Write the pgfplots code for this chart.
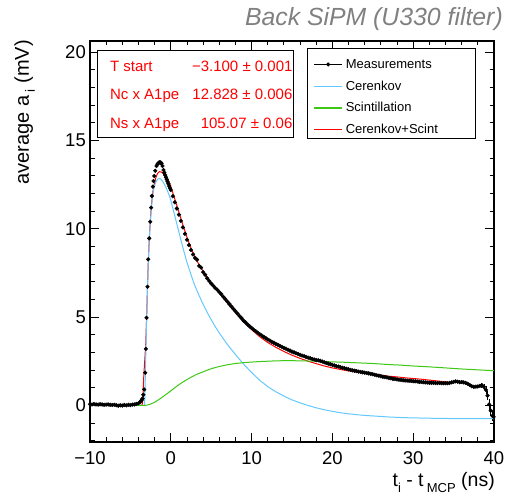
\documentclass[border=0pt]{standalone}
\usepackage{pgfplots}
\pgfplotsset{compat=1.18}
\usepackage{fontspec}
\setmainfont{Liberation Sans}
\definecolor{cblue}{RGB}{100,200,255}
\definecolor{cgreen}{RGB}{60,200,20}
\definecolor{cred}{RGB}{255,0,0}
\definecolor{tgray}{RGB}{128,128,128}
\newcommand\lentry[1]{\makebox[122bp][l]{#1}}
\begin{document}
\begin{tikzpicture}
\useasboundingbox (-90bp,-54.3bp) rectangle (415bp,441.7bp);
\begin{axis}[
  at={(0,0)}, anchor=south west,
  scale only axis, width=404bp, height=400.7bp,
  xmin=-10, xmax=40, ymin=-2.06, ymax=20.64,
  xtick={-10,0,10,20,30,40}, xticklabels={−10,0,10,20,30,40},
  ytick={0,5,10,15,20}, yticklabels={0,5,10,15,20},
  minor xtick={-8,-6,-4,-2,2,4,6,8,12,14,16,18,22,24,26,28,32,34,36,38},
  minor ytick={-2,-1,1,2,3,4,6,7,8,9,11,12,13,14,16,17,18,19},
  tick align=inside, major tick length=9bp, minor tick length=4.5bp,
  every tick/.style={black, line width=0.9bp},
  axis line style={line width=1.6bp},
  ticklabel style={font=\fontsize{18.5bp}{18.5bp}\selectfont},
  xticklabel style={inner sep=0pt, yshift=-10bp},
  yticklabel style={inner sep=0pt, xshift=-4bp},
  legend image code/.code={\draw[mark repeat=2, mark phase=2, #1] plot coordinates {(0bp,-3.3bp) (14bp,-3.3bp) (28bp,-3.3bp)};},
  legend cell align=left,
  legend style={at={(0.538,0.982)}, anchor=north west, draw, line width=0.9bp, fill=white,
    font=\fontsize{13bp}{13bp}\selectfont, inner xsep=5.7bp, inner ysep=3bp,
    row sep=2.7bp, column sep=1bp,
    nodes={inner sep=2bp, text height=14.7bp, text depth=0.3bp}},
]
\addlegendimage{draw=black, line width=0.8bp, mark=*, mark options={fill=black, draw=black}, mark size=1.6bp}
\addlegendentry{\lentry{Measurements}}
\addlegendimage{draw=cblue, line width=1.3bp, mark=none}
\addlegendentry{\lentry{Cerenkov}}
\addlegendimage{draw=cgreen, line width=1.3bp, mark=none}
\addlegendentry{\lentry{Scintillation}}
\addlegendimage{draw=cred, line width=1.3bp, mark=none}
\addlegendentry{\lentry{Cerenkov+Scint}}

% Measurements
\addplot[forget plot, only marks, mark=*, mark size=1.9bp, black] coordinates {
(-10,0.06) (-9.75,0.05) (-9.5,0.07) (-9.25,0.05) (-9,0.04) (-8.75,0.06) (-8.5,0.05) (-8.25,0.03)
(-8,0.04) (-7.75,0.05) (-7.5,0.03) (-7.25,0.02) (-7,0.03) (-6.75,0.01) (-6.5,-0.02) (-6.25,0.0)
(-6,-0.01) (-5.75,0.02) (-5.5,0.0) (-5.25,0.03) (-5,0.01) (-4.75,0.04) (-4.5,0.05) (-4.25,0.08)
(-4,0.12) (-3.8,0.18) (-3.7,0.24) (-3.6,0.3) (-3.5,0.38) (-3.4,0.6) (-3.29,0.9) (-3.17,1.85)
(-3.08,3.2) (-3.0,4.96) (-2.88,6.72) (-2.8,8.27) (-2.67,9.46) (-2.55,10.4) (-2.43,11.2) (-2.34,11.86)
(-2.22,12.39) (-2.14,12.71) (-2.05,12.99) (-1.93,13.29) (-1.77,13.56) (-1.65,13.66) (-1.56,13.71)
(-1.45,13.76) (-1.35,13.77) (-1.25,13.75) (-1.15,13.71) (-1.03,13.56) (-0.9,13.33) (-0.8,13.18)
(-0.7,13.05) (-0.6,12.92) (-0.5,12.8) (-0.4,12.68) (-0.3,12.55) (-0.2,12.42) (-0.1,12.3)
(0,12.2) (0.25,11.85) (0.5,11.5) (0.75,11.15) (1.0,10.8) (1.25,10.45) (1.5,10.08) (1.75,9.72)
(2.0,9.38) (2.25,9.08) (2.5,8.8) (2.75,8.55) (3.0,8.35) (3.25,8.25) (3.5,7.9) (3.75,7.8)
(4.0,7.55) (4.25,7.4) (4.5,7.2) (4.75,7.05) (5.0,6.9) (5.25,6.78) (5.5,6.65) (5.75,6.55)
(6.0,6.42) (6.25,6.3) (6.5,6.15) (6.75,6.02) (7.0,5.88) (7.25,5.74) (7.5,5.6) (7.75,5.46)
(8.0,5.33) (8.25,5.2) (8.5,5.06) (8.75,4.94) (9.0,4.8) (9.25,4.7) (9.5,4.58) (9.75,4.48)
(10.0,4.38) (10.25,4.29) (10.5,4.2) (10.75,4.12) (11.0,4.03) (11.25,3.96) (11.5,3.88) (11.75,3.81)
(12.0,3.73) (12.25,3.67) (12.5,3.6) (12.75,3.55) (13.0,3.48) (13.25,3.43) (13.5,3.37) (13.75,3.31)
(14.0,3.25) (14.25,3.21) (14.5,3.15) (14.75,3.1) (15.0,3.04) (15.25,3.0) (15.5,2.95) (15.75,2.91)
(16.0,2.86) (16.25,2.82) (16.5,2.79) (16.75,2.74) (17.0,2.7) (17.25,2.67) (17.5,2.63) (17.75,2.6)
(18.0,2.56) (18.25,2.55) (18.5,2.52) (18.75,2.48) (19.0,2.44) (19.25,2.4) (19.5,2.36) (19.75,2.33)
(20.0,2.29) (20.25,2.26) (20.5,2.22) (20.75,2.2) (21.0,2.16) (21.25,2.13) (21.5,2.1) (21.75,2.07)
(22.0,2.04) (22.25,2.01) (22.5,1.98) (22.75,1.96) (23.0,1.94) (23.25,1.91) (23.5,1.89) (23.75,1.87)
(24.0,1.85) (24.25,1.83) (24.5,1.81) (24.75,1.78) (25.0,1.76) (25.25,1.73) (25.5,1.7) (25.75,1.68)
(26.0,1.65) (26.25,1.62) (26.5,1.6) (26.75,1.58) (27.0,1.55) (27.25,1.53) (27.5,1.5) (27.75,1.49)
(28.0,1.47) (28.25,1.45) (28.5,1.44) (28.75,1.42) (29.0,1.41) (29.25,1.4) (29.5,1.39) (29.75,1.38)
(30.0,1.37) (30.25,1.36) (30.5,1.35) (30.75,1.33) (31.0,1.32) (31.25,1.31) (31.5,1.3) (31.75,1.29)
(32.0,1.28) (32.25,1.28) (32.5,1.27) (32.75,1.27) (33.0,1.26) (33.25,1.27) (33.5,1.26) (33.75,1.25)
(34.0,1.26) (34.25,1.25) (34.5,1.27) (34.75,1.3) (35.0,1.33) (35.25,1.36) (35.5,1.34) (35.75,1.31)
(36.0,1.32) (36.25,1.3) (36.5,1.27) (36.75,1.22) (37.0,1.15) (37.25,1.08) (37.5,1.05) (37.75,1.06)
(38.0,1.07) (38.25,1.1) (38.5,1.14) (38.75,1.05) (39.0,0.87) (39.2,0.55) (39.4,0.05) (39.6,-0.3)
(39.8,-0.6) (39.95,-0.65)
};
% error bars on the last points
\addplot[forget plot, black, line width=0.8bp, draw=none, mark=none,
  error bars/.cd, y dir=both, y explicit, error bar style={black, line width=0.8bp}, error mark=none]
  coordinates {
(38.5,1.14) +- (0,0.15) (38.75,1.05) +- (0,0.18) (39.0,0.87) +- (0,0.2) (39.2,0.55) +- (0,0.25)
(39.4,0.05) +- (0,0.3) (39.6,-0.3) +- (0,0.3) (39.8,-0.6) +- (0,0.3) (39.95,-0.65) +- (0,0.3)
};
% Cerenkov+Scint
\addplot[forget plot, cred, line width=1bp] coordinates {
(-10,0) (-3.55,0) (-3.5,0.15) (-3.45,0.6) (-3.4,1.1) (-3.35,1.6) (-3.3,2.0) (-3.2,2.7) (-3.1,3.5)
(-3.0,4.85) (-2.9,6.45) (-2.8,7.95) (-2.7,9.05) (-2.6,9.97) (-2.5,10.7) (-2.4,11.3) (-2.3,11.77)
(-2.2,12.14) (-2.1,12.42) (-2.0,12.65) (-1.8,12.97) (-1.6,13.16) (-1.4,13.24) (-1.2,13.22)
(-1.0,13.16) (-0.8,13.06) (-0.6,12.95) (-0.4,12.8) (-0.2,12.63) (0,12.4) (0.5,11.68) (1,10.95)
(1.5,10.22) (2,9.52) (2.5,8.9) (3,8.38) (3.5,7.97) (4,7.6) (4.5,7.24) (5,6.92) (5.5,6.64) (6,6.36)
(7,5.8) (8,5.25) (9,4.74) (10,4.29) (11,3.89) (12,3.56) (13,3.29) (14,3.05) (15,2.84) (16,2.66)
(17,2.5) (18,2.36) (19,2.23) (20,2.12) (21,2.03) (22,1.95) (23,1.88) (24,1.82) (25,1.77) (26,1.71)
(27,1.65) (28,1.61) (29,1.56) (30,1.52) (31,1.48) (32,1.43) (33,1.38) (34,1.33) (35,1.28)
};
% Cerenkov
\addplot[forget plot, cblue, line width=1bp] coordinates {
(-10,0) (-3.25,0) (-3.2,0.6) (-3.15,1.7) (-3.1,2.8) (-3.05,3.8) (-3.0,4.8) (-2.9,6.4) (-2.8,7.9)
(-2.7,9.0) (-2.6,9.9) (-2.5,10.6) (-2.4,11.2) (-2.3,11.65) (-2.2,12.0) (-2.1,12.27) (-2.0,12.45)
(-1.8,12.7) (-1.6,12.82) (-1.4,12.85) (-1.2,12.8) (-1.0,12.68) (-0.8,12.53) (-0.6,12.35)
(-0.4,12.13) (-0.2,11.9) (0,11.62) (0.5,10.72) (1,9.82) (1.5,8.93) (2,8.1) (2.5,7.4) (3,6.75)
(3.5,6.22) (4,5.72) (4.5,5.27) (5,4.85) (5.5,4.46) (6,4.1) (7,3.45) (8,2.88) (9,2.34) (10,1.86)
(11,1.42) (12,1.06) (13,0.77) (14,0.52) (15,0.31) (16,0.14) (17,-0.01) (18,-0.14) (19,-0.25)
(20,-0.34) (21,-0.42) (22,-0.48) (23,-0.53) (24,-0.57) (25,-0.6) (26,-0.63) (27,-0.66) (28,-0.68)
(29,-0.7) (30,-0.71) (32,-0.73) (34,-0.745) (36,-0.75) (38,-0.755) (40,-0.76)
};
% Scintillation
\addplot[forget plot, cgreen, line width=1bp] coordinates {
(-10,0) (-3.1,0) (-2.8,0.03) (-2.5,0.07) (-2,0.18) (-1.5,0.32) (-1,0.48) (-0.5,0.65) (0,0.82)
(0.5,1.0) (1,1.17) (1.5,1.32) (2,1.46) (2.5,1.59) (3,1.71) (3.5,1.81) (4,1.9) (4.5,1.99) (5,2.07)
(5.5,2.14) (6,2.2) (7,2.3) (8,2.37) (9,2.42) (10,2.45) (11,2.48) (12,2.5) (13,2.52) (14,2.53)
(15,2.53) (16,2.52) (17,2.51) (18,2.5) (19,2.48) (20,2.46) (21,2.45) (22,2.43) (23,2.41) (24,2.39)
(25,2.37) (26,2.34) (27,2.31) (28,2.29) (29,2.26) (30,2.23) (32,2.18) (34,2.12) (36,2.06)
(38,2.01) (40,1.96)
};
\end{axis}
% stats box
\node[draw=black, line width=0.9bp, fill=white, anchor=north west, inner xsep=0pt, inner ysep=1bp,
  minimum width=196.6bp, minimum height=87.3bp, text=cred,
  font=\fontsize{15bp}{28.3bp}\selectfont] at (6.7bp,391.7bp)
  {\hspace{11.6bp}\begin{tabular*}{182.4bp}{@{}l@{\extracolsep{\fill}}r@{}}
  T start & −3.100 ± 0.001\\
  Nc x A1pe & 12.828 ± 0.006\\
  Ns x A1pe & 105.07 ± 0.06
  \end{tabular*}\hspace{2.6bp}};
% title
\node[anchor=base east, text=tgray, inner sep=0pt, font=\fontsize{24.8bp}{24.8bp}\selectfont\itshape]
  at (413bp,415.7bp) {Back SiPM (U330 filter)};
% axis titles
\node[anchor=base east, inner sep=0pt, font=\fontsize{19.5bp}{19.5bp}\selectfont] at (405bp,-44.5bp)
  {t\raisebox{-6bp}{\fontsize{13bp}{13bp}\selectfont i} - t\,\raisebox{-6bp}{\fontsize{13bp}{13bp}\selectfont MCP} (ns)};
\node[rotate=90, anchor=base east, inner sep=0pt, font=\fontsize{20bp}{20bp}\selectfont] at (-61bp,401.7bp)
  {average a\,\raisebox{-6bp}{\fontsize{13.5bp}{13.5bp}\selectfont i} (mV)};
\end{tikzpicture}
\end{document}
